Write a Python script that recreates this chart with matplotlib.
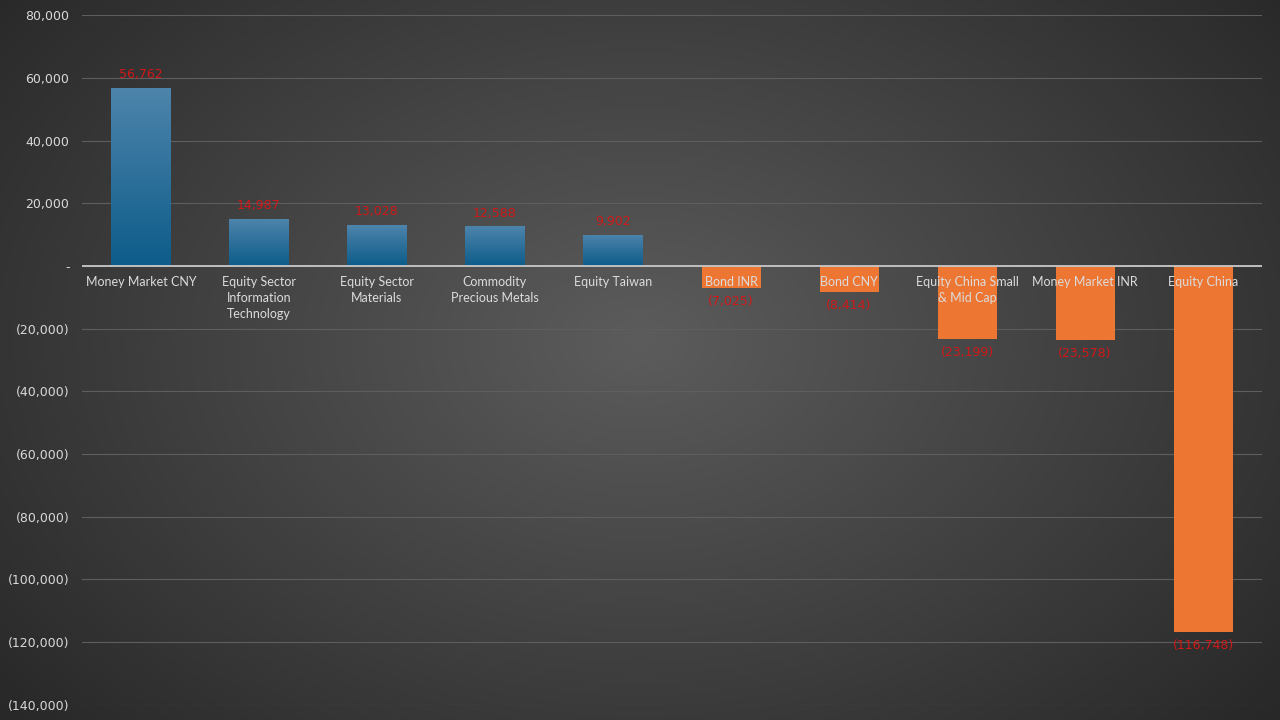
import numpy as np
import matplotlib.pyplot as plt
from matplotlib.ticker import FuncFormatter

categories = ["Money Market CNY", "Equity Sector\nInformation\nTechnology", "Equity Sector\nMaterials",
              "Commodity\nPrecious Metals", "Equity Taiwan", "Bond INR", "Bond CNY",
              "Equity China Small\n& Mid Cap", "Money Market INR", "Equity China"]
values = [56762, 14987, 13028, 12588, 9902, -7025, -8414, -23199, -23578, -116748]
yticks = list(range(-140000, 80001, 20000))

def fmt(v, pos=None):
    if v == 0:
        return "-"
    if v < 0:
        return "({:,.0f})".format(-v)
    return "{:,.0f}".format(v)

fig = plt.figure(figsize=(12.8, 7.2), dpi=100)

# radial background
bg = fig.add_axes([0, 0, 1, 1])
yy, xx = np.mgrid[0:720, 0:1280]
r = np.sqrt(((xx - 640) / 900.0) ** 2 + ((yy - 340) / 620.0) ** 2)
r = np.clip(r, 0, 1)
c_in = np.array([0x5c, 0x5c, 0x5c]) / 255.0
c_out = np.array([0x24, 0x24, 0x24]) / 255.0
img = c_in[None, None, :] * (1 - r[..., None]) + c_out[None, None, :] * r[..., None]
bg.imshow(img, aspect="auto", extent=[0, 1, 0, 1], origin="upper")
bg.axis("off")

ax = fig.add_axes([0.064, 0.021, 0.922, 0.958])
ax.patch.set_alpha(0)
x = np.arange(len(values))
bars = ax.bar(x, values, width=0.5, color="#ED7633", zorder=3)

# blue gradient for positive bars
grad = np.linspace(0, 1, 100)[:, None]
top_c = np.array([0x4d, 0x84, 0xab]) / 255.0
bot_c = np.array([0x0d, 0x5c, 0x8a]) / 255.0
gimg = top_c[None, None, :] * (1 - grad[..., None]) + bot_c[None, None, :] * grad[..., None]
for b, v in zip(bars, values):
    if v > 0:
        b.set_facecolor("none")
        im = ax.imshow(gimg, aspect="auto", origin="upper", zorder=3,
                       extent=[b.get_x(), b.get_x() + b.get_width(), 0, v])
        im.set_clip_path(b)

ax.set_xlim(-0.5, len(values) - 0.5)
ax.set_ylim(-140000, 80000)
ax.set_yticks(yticks)
ax.yaxis.set_major_formatter(FuncFormatter(fmt))
ax.tick_params(axis="y", colors="#d9d9d9", labelsize=9, length=0, pad=9)
ax.set_xticks([])
for s in ax.spines.values():
    s.set_visible(False)
ax.grid(axis="y", color="#5e5e5e", linewidth=0.8, zorder=0)
ax.axhline(0, color="#c8c8c8", linewidth=1.3, zorder=4)

for i, (cat, v) in enumerate(zip(categories, values)):
    ax.annotate(cat, (i, 0), xytext=(0, -7), textcoords="offset points",
                ha="center", va="top", color="#dcdcdc", fontsize=9, zorder=5,
                linespacing=1.4, family="Lato")
    if v > 0:
        ax.annotate(fmt(v), (i, v), xytext=(0, 5), textcoords="offset points",
                    ha="center", va="bottom", color="#d01818", fontsize=9, zorder=5)
    else:
        ax.annotate(fmt(v), (i, v), xytext=(0, -5), textcoords="offset points",
                    ha="center", va="top", color="#d01818", fontsize=9, zorder=5)

fig.savefig("out.png", dpi=100)
